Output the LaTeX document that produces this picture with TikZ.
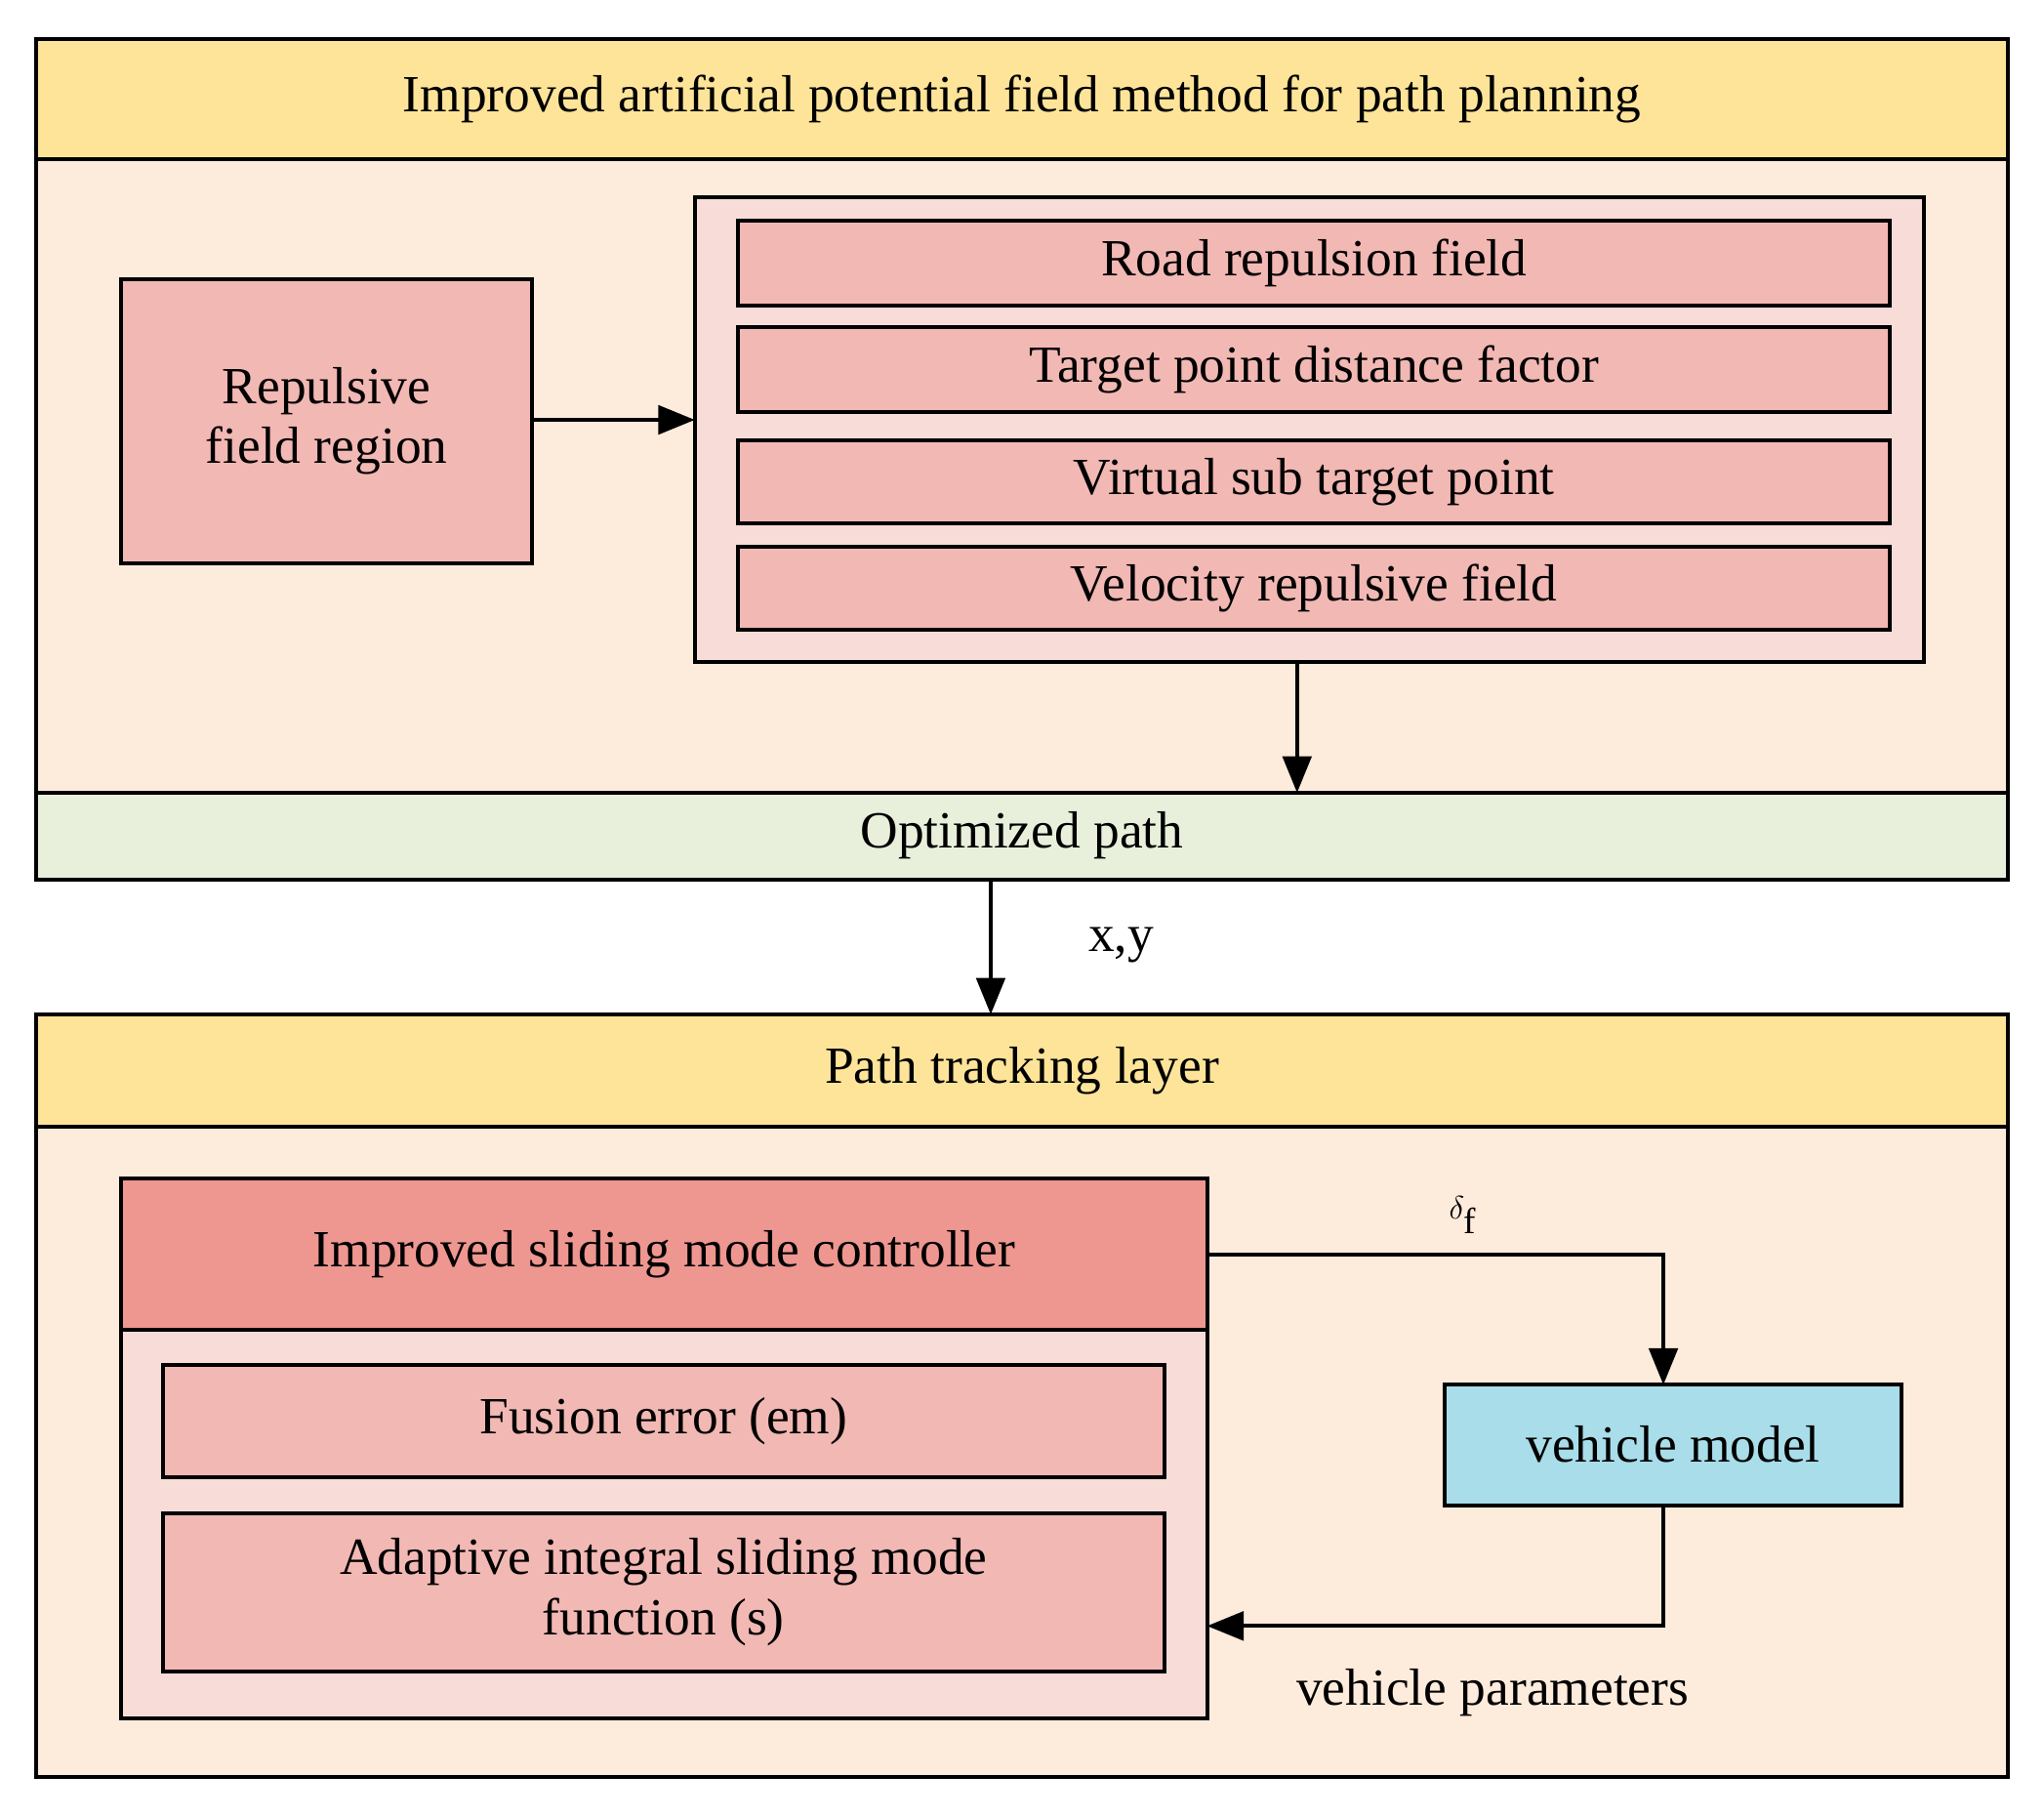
\documentclass[tikz,border=0pt]{standalone}
\usepackage{fontspec}
\setmainfont{Liberation Serif}
\usetikzlibrary{arrows.meta}
\definecolor{yel}{HTML}{FDE498}
\definecolor{peach}{HTML}{FDEBDC}
\definecolor{grn}{HTML}{E8F0DC}
\definecolor{pl}{HTML}{F8DCD8}
\definecolor{bx}{HTML}{F2B8B4}
\definecolor{dk}{HTML}{EE9690}
\definecolor{cy}{HTML}{A8DDE9}
\begin{document}
\begin{tikzpicture}[x=1pt,y=-1pt,line width=3pt,
 box/.style={draw,fill=bx},
 txt/.style={font=\fontsize{40}{46}\selectfont,align=center},
 arr/.style={-{Triangle[length=28pt,width=22pt]}}]
\useasboundingbox (0,0) rectangle (1568,1393);
% top panel
\draw[fill=peach] (28,30) rectangle (1540,675);
\draw[fill=yel] (28,30) rectangle (1540,122);
\draw[fill=grn] (28,608) rectangle (1540,675);
\node[txt] (h1) at (784,76) {Improved artificial potential field method for path planning};
\node[txt] (op) at (784,641) {Optimized path};
\draw[box] (93,214) rectangle (408,432);
\node[txt] (rf) at (250.5,323) {Repulsive\\field region};
\draw[fill=pl] (533,151) rectangle (1476,508);
\coordinate (rc) at (533,322);
\foreach \a/\b/\t in {169/234/Road repulsion field,251/316/Target point distance factor,338/401/Virtual sub target point,419/483/Velocity repulsive field}{
 \draw[box] (566,\a) rectangle (1450,\b);
 \node[txt] at (1008,{(\a+\b)/2}) {\t};}
\draw[arr] (408,322) -- (rc);
\coordinate (c1) at (995,508); \coordinate (c2) at (995,608);
\draw[arr] (c1) -- (c2);
\coordinate (c3) at (760,675); \coordinate (c4) at (760,778);
\draw[arr] (c3) -- (c4);
\node[txt] (xy) at (860,725) {x,y};
% bottom panel
\draw[fill=peach] (28,778) rectangle (1540,1363);
\draw[fill=yel] (28,778) rectangle (1540,864);
\node[txt] (h2) at (784,821) {Path tracking layer};
\draw[fill=pl] (93,904) rectangle (926,1318);
\draw[fill=dk] (93,904) rectangle (926,1020);
\node[txt] (smc) at (509.5,962) {Improved sliding mode controller};
\draw[box] (125,1047) rectangle (893,1133);
\node[txt] (fe) at (509,1090) {Fusion error (em)};
\draw[box] (125,1161) rectangle (893,1282);
\node[txt] (ai) at (509,1221) {Adaptive integral sliding mode\\function (s)};
\draw[fill=cy] (1108,1062) rectangle (1459,1155);
\node[txt] (vm) at (1283.5,1108) {vehicle model};
\draw[arr] (926,962) -- (1276,962) -- (1276,1062);
\node[txt] (df) at (1122,932) {$\delta_{\mathrm{f}}$};
\draw[arr] (1276,1155) -- (1276,1247) -- (926,1247);
\node[txt] (vp) at (1145,1298) {vehicle parameters};
\end{tikzpicture}
\end{document}
